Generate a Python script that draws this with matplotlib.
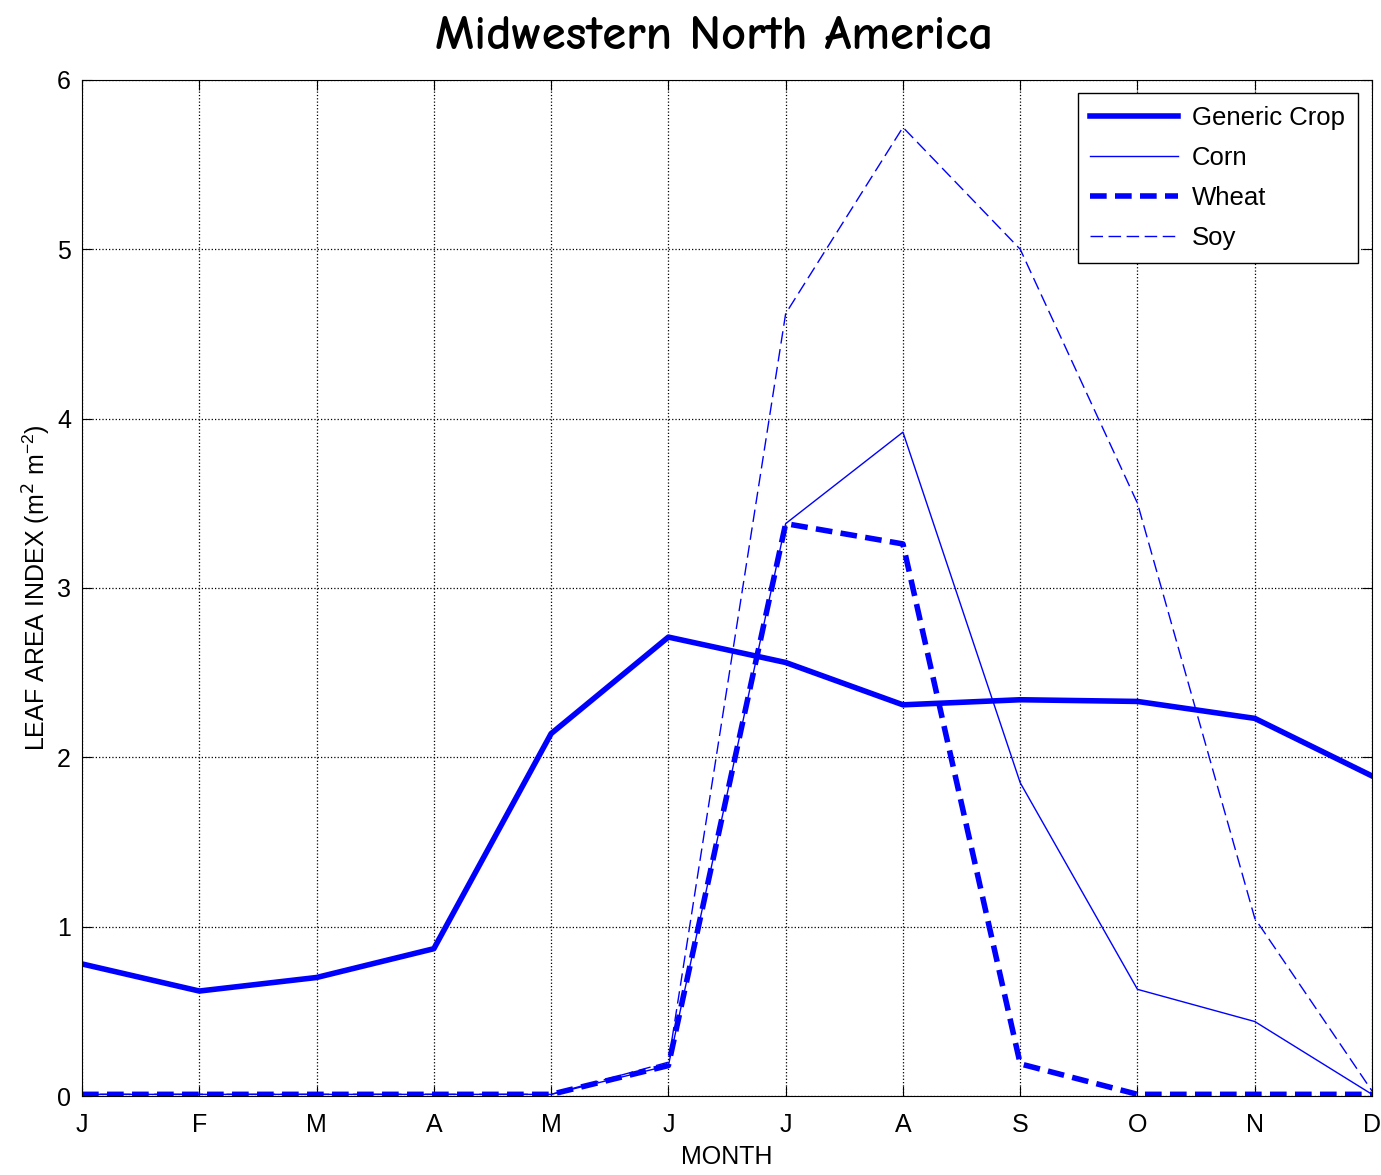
import matplotlib
matplotlib.use("Agg")
import matplotlib.pyplot as plt

months = ["J", "F", "M", "A", "M", "J", "J", "A", "S", "O", "N", "D"]
generic = [0.78, 0.62, 0.70, 0.87, 2.14, 2.71, 2.56, 2.31, 2.34, 2.33, 2.23, 1.89]
corn = [0.01, 0.01, 0.01, 0.01, 0.01, 0.18, 3.38, 3.92, 1.85, 0.63, 0.44, 0.01]
wheat = [0.01, 0.01, 0.01, 0.01, 0.01, 0.18, 3.38, 3.26, 0.19, 0.01, 0.01, 0.01]
soy = [0.01, 0.01, 0.01, 0.01, 0.01, 0.20, 4.62, 5.72, 5.00, 3.50, 1.05, 0.03]
yticks = [0, 1, 2, 3, 4, 5, 6]

plt.rcParams['font.family'] = ['Liberation Sans', 'DejaVu Sans']

fig = plt.figure(figsize=(13.81, 11.75), dpi=100)
ax = fig.add_axes([0.0594, 0.0672, 0.9341, 0.8648])

x = range(len(months))
blue = "#0000ff"
ax.plot(x, generic, color=blue, lw=4, label="Generic Crop")
ax.plot(x, corn, color=blue, lw=1, label="Corn")
ax.plot(x, wheat, color=blue, lw=4, ls=(0, (3, 1.5)), label="Wheat")
ax.plot(x, soy, color=blue, lw=1, ls=(0, (9, 4)), label="Soy")

ax.set_xlim(0, 11)
ax.set_ylim(0, 6)
ax.set_xticks(list(x))
ax.set_xticklabels(months)
ax.set_yticks(yticks)
ax.tick_params(direction="in", top=True, right=True, labelsize=18, length=7)
ax.tick_params(axis="x", pad=12)
ax.tick_params(axis="y", pad=8)
ax.grid(True, color="black", ls=":", lw=0.9)

ax.set_xlabel("MONTH", fontsize=18, labelpad=6)
ax.set_ylabel("LEAF AREA INDEX (m$^{2}$ m$^{\\mathregular{-2}}$)", fontsize=18, labelpad=3)
ax.set_title("Midwestern North America", fontsize=35, fontweight="bold",
             family=["Comic Neue", "DejaVu Sans"], pad=22, x=0.49)

leg = ax.legend(loc="upper right", bbox_to_anchor=(0.989, 0.987), fontsize=18.5,
                fancybox=False, edgecolor="black", framealpha=1,
                handlelength=3.4, labelspacing=0.62, borderpad=0.5,
                handletextpad=0.55, borderaxespad=0)
leg.get_frame().set_linewidth(1)

fig.savefig("out.png", dpi=100)
